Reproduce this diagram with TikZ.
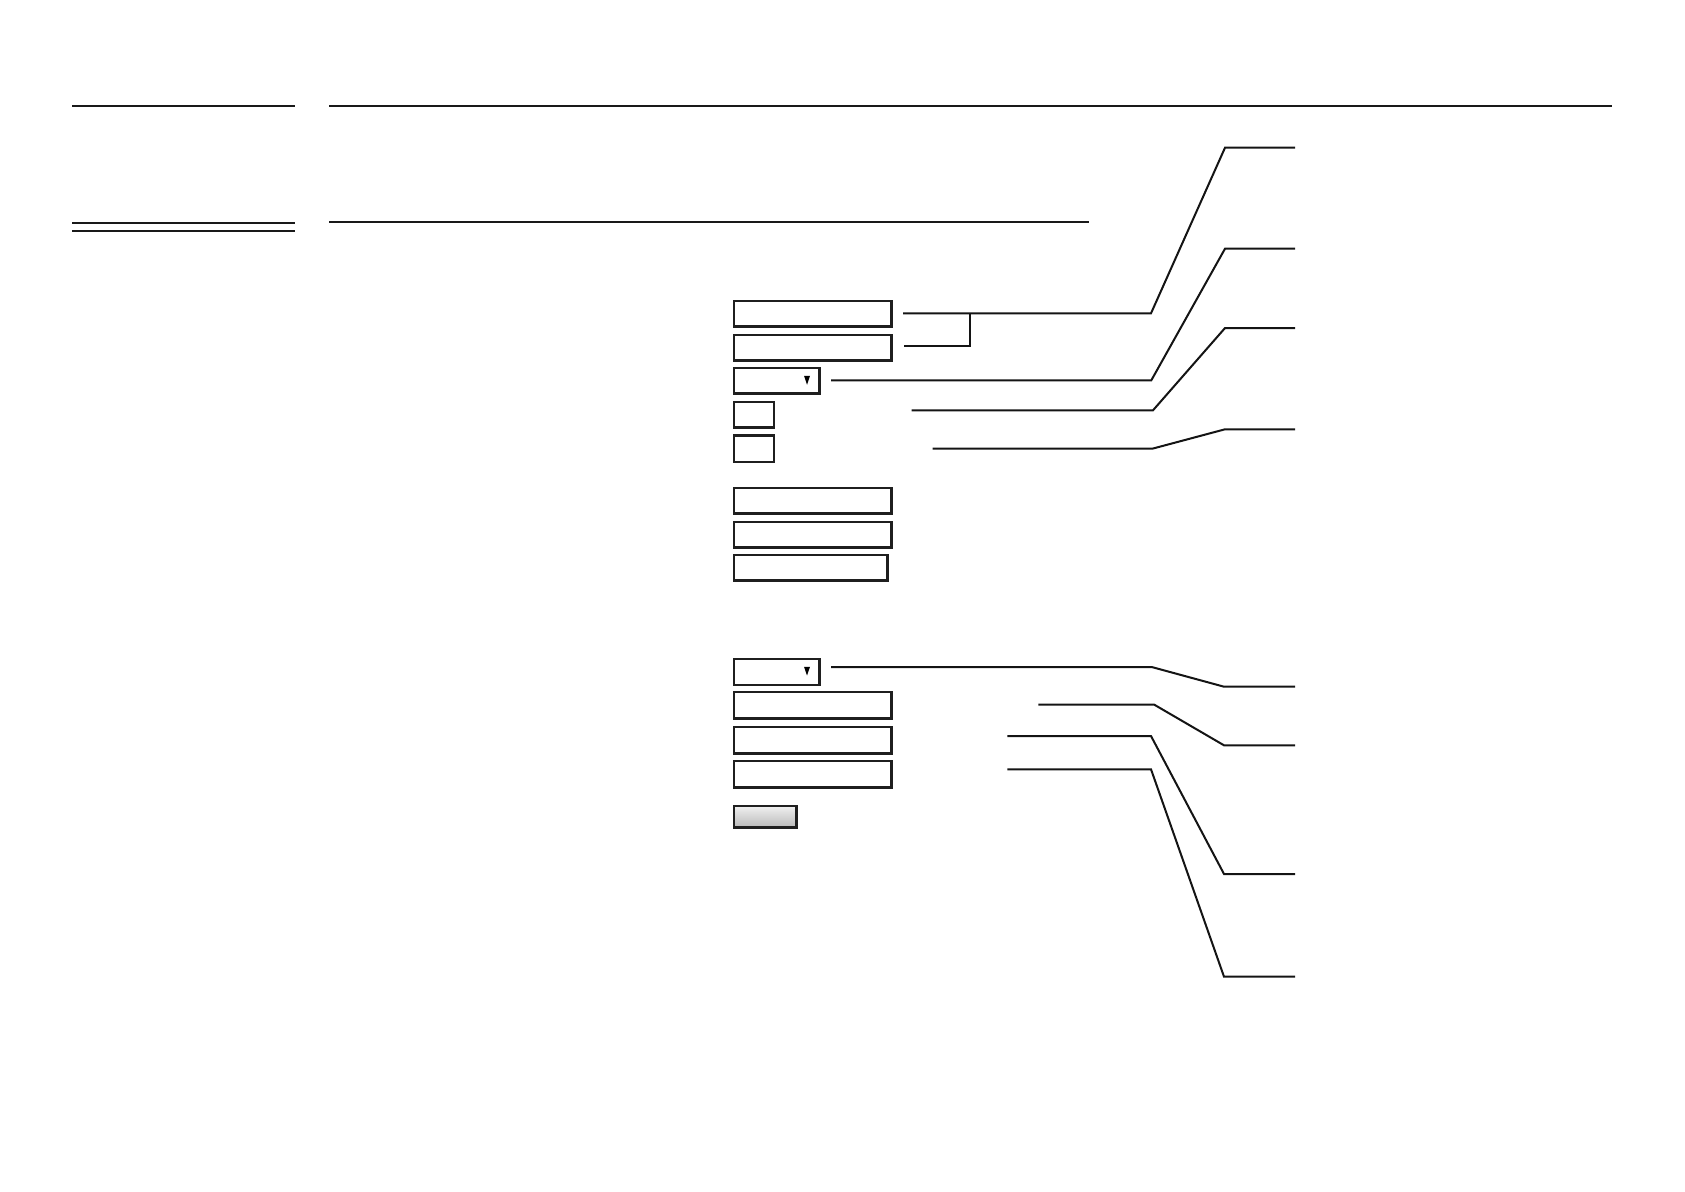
\documentclass[tikz,border=0pt]{standalone}
\usetikzlibrary{calc}
\begin{document}
\begin{tikzpicture}[x=1pt,y=-1pt,
  field/.style={draw=black!88,line width=2.7pt,rectangle,inner sep=0pt,outer sep=0pt,anchor=north west,fill=white},
  btn/.style={draw=black!88,line width=2.7pt,rectangle,inner sep=0pt,outer sep=0pt,anchor=north west,top color=gray!12,bottom color=gray!55},
  rule/.style={line width=2pt,black!90},
  leader/.style={line width=2pt,black!92,line join=miter},
  tri/.style={fill=black}]
\useasboundingbox (0,0) rectangle (1685,1191);
% header rules
\draw[rule] (72,105.5) -- (295,105.5);
\draw[rule] (329,105.5) -- (1612,105.5);
\draw[rule] (72,222.7) -- (295,222.7);
\draw[rule] (72,231) -- (295,231);
\draw[rule] (329,222.2) -- (1089,222.2);
% upper form
\node[field,minimum width=157.5pt,minimum height=25.5pt] (b1) at (734,301) {};
\node[field,minimum width=157.5pt,minimum height=25.5pt] (b2) at (734,335) {};
\node[field,minimum width=85.5pt,minimum height=25.5pt] (d1) at (734,368) {};
\node[field,minimum width=40pt,minimum height=25.5pt] (s1) at (734,402) {};
\node[field,minimum width=40pt,minimum height=26.5pt] (s2) at (734,435.5) {};
\node[field,minimum width=157.5pt,minimum height=25.5pt] (b4) at (734,488) {};
\node[field,minimum width=157.5pt,minimum height=25.5pt] (b5) at (734,522) {};
\node[field,minimum width=153.5pt,minimum height=25.5pt] (b6) at (734,555) {};
\fill[tri] ($(d1.east)+(-15.5,-5)$) -- ($(d1.east)+(-9.5,-5)$) -- ($(d1.east)+(-12.5,4)$) -- cycle;
% lower form
\node[field,minimum width=85.5pt,minimum height=26pt] (d2) at (734,659) {};
\node[field,minimum width=157.5pt,minimum height=26.5pt] (b7) at (734,692) {};
\node[field,minimum width=157.5pt,minimum height=26.5pt] (b8) at (734,727) {};
\node[field,minimum width=157.5pt,minimum height=26.5pt] (b9) at (734,761) {};
\node[btn,minimum width=62.5pt,minimum height=21.5pt] (bt) at (734,806) {};
\fill[tri] ($(d2.east)+(-15.5,-5.2)$) -- ($(d2.east)+(-9.5,-5.2)$) -- ($(d2.east)+(-12.5,3.5)$) -- cycle;
% leader endpoints
\coordinate (p1) at (903,313.3);
\coordinate (p2) at (904.3,345.7);
\coordinate (br) at (970,313.3);
\coordinate (p3) at (831,380.3);
\coordinate (p4) at (911.7,410.3);
\coordinate (p5) at (932.7,448.7);
\coordinate (q1) at (831,667);
\coordinate (q2) at (1038.3,704.7);
\coordinate (q3) at (1007.3,736);
\coordinate (q4) at (1007.3,769.3);
% upper leaders
\draw[leader] (p2) -- (970,345.7) -- (br);
\draw[leader] (p1) -- (1151,313.3) -- (1225,147.7) -- (1295,147.7);
\draw[leader] (p3) -- (1151.3,380.3) -- (1225,248.7) -- (1295,248.7);
\draw[leader] (p4) -- (1153,410.3) -- (1225,328) -- (1295,328);
\draw[leader] (p5) -- (1152.3,448.7) -- (1225,429.3) -- (1295,429.3);
% lower leaders
\draw[leader] (q1) -- (1151.7,667) -- (1224,686.7) -- (1295,686.7);
\draw[leader] (q2) -- (1154.3,704.7) -- (1224,745.3) -- (1295,745.3);
\draw[leader] (q3) -- (1151,736) -- (1224,874) -- (1295,874);
\draw[leader] (q4) -- (1151,769.3) -- (1224,976.7) -- (1295,976.7);
\end{tikzpicture}
\end{document}
